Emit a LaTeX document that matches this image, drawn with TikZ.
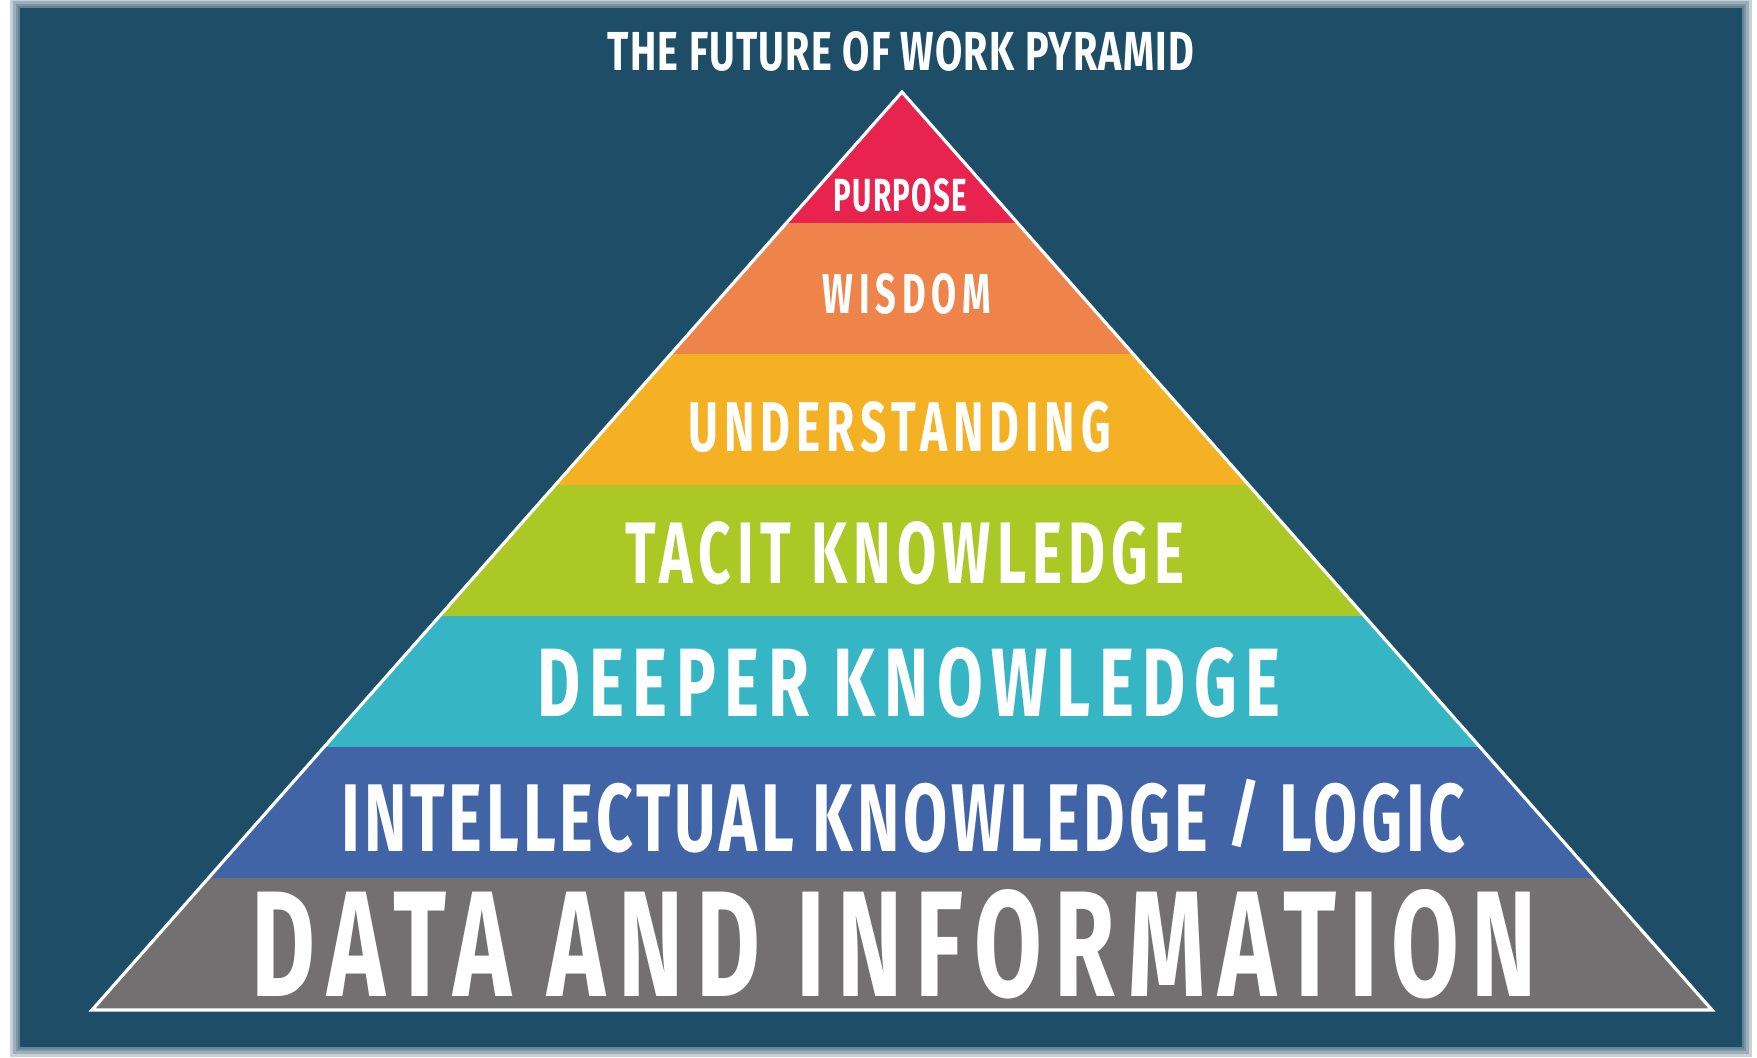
\documentclass[tikz,border=0pt]{standalone}
\usepackage{fontspec}
\usepackage{graphicx}
\newfontfamily\dinfont{Fira Sans}
\newlength\pxu
\setlength\pxu{0.01cm}
\newcommand{\lbl}[4][0]{\resizebox{#2\pxu}{#3\pxu}{\dinfont\bfseries\addfontfeature{LetterSpace=#1}#4}}
\newcommand{\slsh}{\raisebox{0.12em}{\scalebox{1}[0.77]{/}}}
\definecolor{bgteal}{RGB}{30,78,103}
\definecolor{purposered}{RGB}{232,35,77}
\definecolor{wisdomorange}{RGB}{238,132,74}
\definecolor{understandyellow}{RGB}{245,177,36}
\definecolor{tacitgreen}{RGB}{172,200,36}
\definecolor{deeperteal}{RGB}{54,182,197}
\definecolor{intellectblue}{RGB}{64,100,165}
\definecolor{datagray}{RGB}{114,112,113}

\begin{document}
\begin{tikzpicture}[x=0.01cm, y=-0.01cm, lbl/.style={inner sep=0pt, anchor=base west, text=white}]
  \useasboundingbox (0,0) rectangle (1757,1057);
  \fill[white] (0,0) rectangle (1757,1057);
  \foreach \d in {10,7,4,2}
    \fill[bgteal, opacity=0.25] (20-\d,8-\d) rectangle (1742+\d,1047+\d);
  \fill[bgteal] (20,8) rectangle (1742,1047);

  \coordinate (apex) at (902,92);
  \coordinate (lft) at (92,1010);
  \coordinate (rgt) at (1712,1010);
  \begin{scope}
    \clip (apex) -- (lft) -- (rgt) -- cycle;
    \fill[purposered] (0,90) rectangle (1757,223);
    \fill[wisdomorange] (0,223) rectangle (1757,354);
    \fill[understandyellow] (0,354) rectangle (1757,485);
    \fill[tacitgreen] (0,485) rectangle (1757,616);
    \fill[deeperteal] (0,616) rectangle (1757,747);
    \fill[intellectblue] (0,747) rectangle (1757,878);
    \fill[datagray] (0,878) rectangle (1757,1012);
  \end{scope}
  \draw[white, line width=0.9pt, line join=miter] (apex) -- (lft) -- (rgt) -- cycle;

  \node[lbl] (title) at (607,70) {\lbl[3]{586}{39}{THE FUTURE OF WORK PYRAMID}};
  \node[lbl] (purpose) at (833,211) {\lbl[4]{133}{33}{PURPOSE}};
  \node[lbl] (wisdom) at (822,313) {\lbl[16]{168}{40}{WISDOM}};
  \node[lbl] (understanding) at (688,451) {\lbl[13]{422}{50}{UNDERSTANDING}};
  \node[lbl] (tacit) at (625,583) {\lbl[11]{559}{62}{TACIT KNOWLEDGE}};
  \node[lbl] (deeper) at (537,716) {\lbl[13]{743}{69}{DEEPER KNOWLEDGE}};
  \node[lbl] (intellect) at (341,851) {\lbl[6]{1124}{72}{INTELLECTUAL KNOWLEDGE \slsh{} LOGIC}};
  \node[lbl] (data) at (251,996) {\lbl[13]{1285}{107}{DATA AND INFORMATION}};
\end{tikzpicture}
\end{document}
